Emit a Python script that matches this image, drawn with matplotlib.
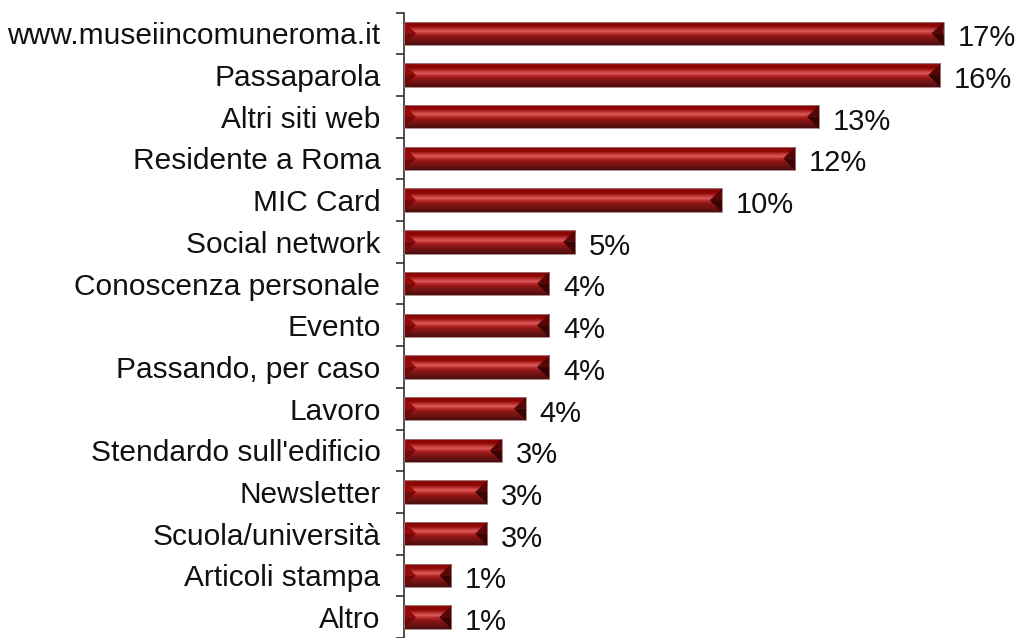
import numpy as np
import matplotlib
matplotlib.use("Agg")
import matplotlib.pyplot as plt
from matplotlib.colors import LinearSegmentedColormap
from matplotlib.patches import Polygon

categories = [
    "www.museiincomuneroma.it", "Passaparola", "Altri siti web",
    "Residente a Roma", "MIC Card", "Social network",
    "Conoscenza personale", "Evento", "Passando, per caso", "Lavoro",
    "Stendardo sull'edificio", "Newsletter", "Scuola/università",
    "Articoli stampa", "Altro",
]
shares = [16.55, 16.45, 12.73, 12.0, 9.75, 5.25, 4.45, 4.45, 4.45, 3.74,
          3.0, 2.55, 2.55, 1.45, 1.45]

plt.rcParams["font.family"] = ["Liberation Sans", "DejaVu Sans"]

W, H = 1020, 638
fig = plt.figure(figsize=(W / 100, H / 100), dpi=100)
px_per_unit = 32.6
x_max = 18.0
ax = fig.add_axes([404 / W, 0.0, x_max * px_per_unit / W, 625.5 / H])

y = np.arange(len(categories))
bar_h = 0.56
bars = ax.barh(y, shares, height=bar_h, color="none", edgecolor="none")

ax.set_xlim(0, x_max)
ax.set_ylim(len(categories) - 0.5, -0.5)

# vertical shading profile of the bevelled bar face, top to bottom
face = LinearSegmentedColormap.from_list("face", [
    (0.00, "#b85858"),
    (0.06, "#8a0404"),
    (0.22, "#900808"),
    (0.34, "#c23838"),
    (0.43, "#d85c5c"),
    (0.53, "#bb2a2a"),
    (0.64, "#921616"),
    (0.80, "#721414"),
    (1.00, "#4c0e0e"),
])
grad = np.linspace(0, 1, 64).reshape(-1, 1)

dx = 12 / px_per_unit  # bevel depth of the end faces
for rect in bars:
    x0, y0 = rect.get_x(), rect.get_y()
    w, h = rect.get_width(), rect.get_height()
    x1, y1 = x0 + w, y0 + h
    ym = y0 + 0.5 * h
    im = ax.imshow(grad, cmap=face, aspect="auto", interpolation="bilinear",
                   extent=(x0, x1, y1, y0), origin="upper", zorder=2)
    im.set_clip_path(rect)
    d = min(dx, w / 2.5)
    # left end face
    ax.add_patch(Polygon([(x0, y0), (x0 + d, ym), (x0, ym)], closed=True,
                         facecolor="#960a0a", edgecolor="none", zorder=3))
    ax.add_patch(Polygon([(x0, ym), (x0 + d, ym), (x0, y1)], closed=True,
                         facecolor="#720808", edgecolor="none", zorder=3))
    # right end face
    ax.add_patch(Polygon([(x1, y0), (x1 - d, ym), (x1, ym)], closed=True,
                         facecolor="#560606", edgecolor="none", zorder=3))
    ax.add_patch(Polygon([(x1, ym), (x1 - d, ym), (x1, y1)], closed=True,
                         facecolor="#380303", edgecolor="none", zorder=3))
    # thin outline
    ax.add_patch(plt.Rectangle((x0, y0), w, h, facecolor="none",
                               edgecolor="#a07a7a", linewidth=0.6, zorder=4))

for rect, v in zip(bars, shares):
    ax.annotate(f"{v:.0f}%", (rect.get_x() + rect.get_width(),
                              rect.get_y() + rect.get_height() / 2),
                xytext=(10, -3.5), textcoords="offset points",
                ha="left", va="center", fontsize=21, color="#111111")

for s in ("top", "right", "bottom"):
    ax.spines[s].set_visible(False)
ax.spines["left"].set_color("#303030")
ax.spines["left"].set_linewidth(1.2)
ax.set_xticks([])
ax.set_yticks(y)
ax.set_yticklabels(categories, fontsize=21.5, color="#111111")
ax.tick_params(axis="y", which="major", length=0, pad=17)
ax.set_yticks(np.arange(-0.5, len(categories), 1.0), minor=True)
ax.tick_params(axis="y", which="minor", length=6, width=1.2, color="#303030",
               direction="out")

fig.savefig("out.png", dpi=100)
